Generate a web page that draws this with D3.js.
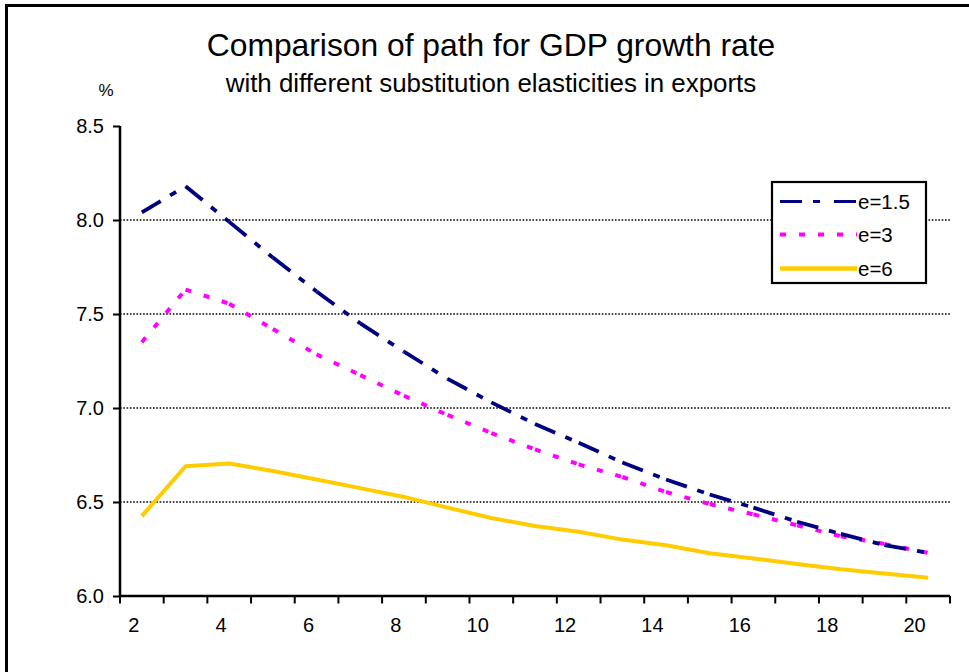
<!DOCTYPE html>
<html>
<head>
<meta charset="utf-8">
<script src="https://cdn.jsdelivr.net/npm/d3@7/dist/d3.min.js"></script>
<style>
  html, body { margin: 0; padding: 0; background: #fff; }
  svg { display: block; }
  text { font-family: "Liberation Sans", Arial, Helvetica, sans-serif; fill: #000; }
</style>
</head>
<body>
<svg id="chart" width="969" height="672"></svg>
<script>
// ---- data ----
const categories = [2,3,4,5,6,7,8,9,10,11,12,13,14,15,16,17,18,19,20];
const xTickLabels = [2,4,6,8,10,12,14,16,18,20];
const yTicks = [6.0, 6.5, 7.0, 7.5, 8.0, 8.5];
const gridValues = [6.5, 7.0, 7.5, 8.0];
const seriesNames = ["e=1.5", "e=3", "e=6"];
const e15 = [8.04, 8.18, 7.99, 7.80, 7.62, 7.45, 7.30, 7.155, 7.03, 6.915, 6.815, 6.71, 6.62, 6.54, 6.47, 6.395, 6.33, 6.27, 6.23];
const e3  = [7.35, 7.63, 7.555, 7.42, 7.285, 7.175, 7.065, 6.963, 6.867, 6.78, 6.70, 6.633, 6.553, 6.489, 6.434, 6.376, 6.318, 6.277, 6.229];
const e6  = [6.425, 6.69, 6.705, 6.665, 6.62, 6.574, 6.527, 6.47, 6.415, 6.372, 6.342, 6.30, 6.27, 6.227, 6.20, 6.17, 6.142, 6.12, 6.097];

const svg = d3.select("#chart");
const font = '"Liberation Sans", Arial, Helvetica, sans-serif';

// outer frame (right/bottom edges fall outside the picture)
svg.append("rect").attr("x", 6.5).attr("y", 5.5).attr("width", 1000).attr("height", 700)
  .attr("fill", "#fff").attr("stroke", "#000").attr("stroke-width", 3);

// scales
const x = d3.scaleBand().domain(categories).range([120, 950]).padding(0);
const bw = x.bandwidth();
const cx = c => x(c) + bw / 2;
const y = d3.scaleLinear().domain([6, 8.5]).range([596, 126]);

// titles
svg.append("text").attr("x", 491).attr("y", 56).attr("text-anchor", "middle")
  .style("font-size", "31.8px").text("Comparison of path for GDP growth rate");
svg.append("text").attr("x", 491).attr("y", 92).attr("text-anchor", "middle")
  .style("font-size", "25.9px").text("with different substitution elasticities in exports");
svg.append("text").attr("x", 106).attr("y", 96).attr("text-anchor", "middle")
  .style("font-size", "17px").text("%");

// gridlines
svg.append("g").selectAll("line").data(gridValues).join("line")
  .attr("x1", 120).attr("x2", 950)
  .attr("y1", d => y(d)).attr("y2", d => y(d))
  .attr("stroke", "#000").attr("stroke-width", 1.3).attr("stroke-dasharray", "1.6,1.7");

// y axis
const yAxis = svg.append("g").attr("transform", "translate(120,0)")
  .call(d3.axisLeft(y).tickValues(yTicks).tickSize(7).tickPadding(9).tickFormat(d3.format(".1f")));
yAxis.select(".domain").attr("stroke", "#000").attr("stroke-width", 2.5).attr("d", `M0,${y(8.5)}V${y(6)}`);
yAxis.selectAll(".tick line").attr("stroke", "#000").attr("stroke-width", 2);
yAxis.selectAll(".tick text").style("font-size", "20px").style("font-family", font);

// x axis
const xAxis = svg.append("g").attr("transform", `translate(0,${y(6)})`)
  .call(d3.axisBottom(x).tickValues(xTickLabels).tickSize(0).tickPadding(21.8));
xAxis.select(".domain").attr("stroke", "#000").attr("stroke-width", 2.5).attr("d", `M120,0H950`);
xAxis.selectAll(".tick text").style("font-size", "20px").style("font-family", font)
  .attr("text-anchor", "end").attr("dx", -2.5);
const boundaries = categories.map(c => x(c)).concat([x.range()[1]]);
xAxis.append("g").selectAll("line").data(boundaries).join("line")
  .attr("x1", d => d).attr("x2", d => d).attr("y1", 0).attr("y2", 7.5)
  .attr("stroke", "#000").attr("stroke-width", 2);

// series
const line = d3.line().x(d => cx(d[0])).y(d => y(d[1]));
const styles = [
  { name: seriesNames[0], values: e15, color: "#000080", width: 3.8, dash: "22,11,7,11", perSeg: true },
  { name: seriesNames[1], values: e3,  color: "#FF00FF", width: 4,   dash: "6,13", perSeg: true },
  { name: seriesNames[2], values: e6,  color: "#FFCC00", width: 4,   dash: null, perSeg: false }
];
const gLines = svg.append("g");
[styles[2], styles[1], styles[0]].forEach(s => {
  const pts = categories.map((c, i) => [c, s.values[i]]);
  const parts = s.perSeg ? d3.pairs(pts) : [pts];
  gLines.append("g").selectAll("path").data(parts).join("path")
    .attr("d", d => line(d))
    .attr("fill", "none").attr("stroke", s.color).attr("stroke-width", s.width)
    .attr("stroke-linejoin", "round")
    .attr("stroke-dasharray", s.dash);
});

// legend
const lg = svg.append("g");
lg.append("rect").attr("x", 772).attr("y", 182).attr("width", 154).attr("height", 101)
  .attr("fill", "#fff").attr("stroke", "#000").attr("stroke-width", 2.2);
const rowY = [201.5, 234.5, 268.5];
const legendDash = ["22,11,7,14", "6,13", null];
const legendW = [3, 4, 4.5];
styles.forEach((s, i) => {
  lg.append("line").attr("x1", 780).attr("x2", 857).attr("y1", rowY[i]).attr("y2", rowY[i])
    .attr("stroke", s.color).attr("stroke-width", legendW[i])
    .attr("stroke-dasharray", legendDash[i]);
  lg.append("text").attr("x", 858).attr("y", rowY[i]).attr("dy", "0.36em")
    .style("font-size", "20.5px").text(s.name);
});
</script>
</body>
</html>
